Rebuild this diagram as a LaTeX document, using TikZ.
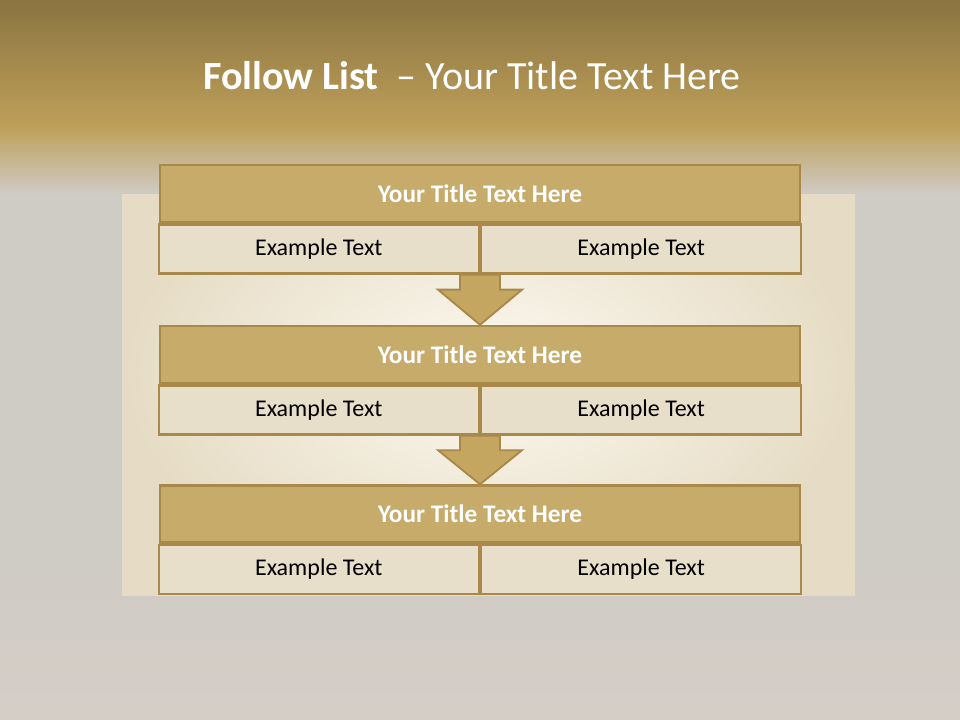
\documentclass[tikz,border=0pt]{standalone}
\usepackage{fontspec}
\setmainfont{Carlito}
\usepackage{xcolor}
\usetikzlibrary{arrows.meta, positioning, calc}

\definecolor{bandTop}{HTML}{8A7441}
\definecolor{bandLow}{HTML}{BFA05A}
\definecolor{bgGrey}{HTML}{CFCBC5}
\definecolor{bgLow}{HTML}{D5CEC7}
\definecolor{paper}{HTML}{E6DCC5}
\definecolor{paperGlow}{HTML}{FCF9F0}
\definecolor{boxLine}{HTML}{A8894A}
\definecolor{titleFill}{HTML}{C6AB6A}
\definecolor{cellFill}{HTML}{E8DFCA}
\definecolor{arrowFill}{HTML}{C4A660}

\tikzset{
  bandtitle/.style={fill=titleFill, draw=boxLine, line width=1.8pt,
    minimum width=480pt, minimum height=42.75pt, inner sep=0pt,
    text=white, font=\fontsize{19}{22}\selectfont\bfseries},
  cell/.style={fill=cellFill, draw=boxLine, line width=1.8pt,
    minimum width=240pt, minimum height=36.75pt, inner sep=0pt,
    text=black, font=\fontsize{18}{21}\selectfont},
  downarrow/.style={fill=arrowFill, draw=boxLine, line width=1.4pt, line join=miter}
}

\begin{document}
\begin{tikzpicture}[x=0.75pt, y=-0.75pt]
  \useasboundingbox (0,0) rectangle (960,720);

  % Fond
  \fill[bgGrey] (0,0) rectangle (960,720);
  \shade[top color=bgGrey, bottom color=bgLow] (0,560) rectangle (960,720);
  \shade[inner color=paperGlow, outer color=paper] (122,150) rectangle (855,595);
  \shade[top color=bandTop, bottom color=bandLow] (0,0) rectangle (960,128);
  \shade[top color=bandLow, bottom color=bgGrey] (0,127) rectangle (960,194);

  % Titre
  \node[text=white, font=\fontsize{30}{34}\selectfont] (title) at (472,76)
      {\textbf{Follow List} \ – Your Title Text Here};

  % Blocs
  \foreach \i/\y in {1/193.5, 2/354.5, 3/514} {
    \node[bandtitle] (head\i) at (480,\y) {Your Title Text Here};
    \node[cell, anchor=north east] (left\i) at (head\i.south) {Example Text};
    \node[cell, anchor=north west] (right\i) at (head\i.south) {Example Text};
  }

  % Flèches
  \foreach \a/\b in {1/2, 2/3} {
    \coordinate (top\a) at (left\a.south east);
    \coordinate (tip\a) at (head\b.north);
    \draw[downarrow] ($(top\a)+(-20,0)$) -- ($(top\a)+(20,0)$)
      -- ($(top\a)!0.3!(tip\a)+(20,0)$) -- ($(top\a)!0.3!(tip\a)+(42,0)$)
      -- (tip\a) -- ($(top\a)!0.3!(tip\a)+(-42,0)$)
      -- ($(top\a)!0.3!(tip\a)+(-20,0)$) -- cycle;
  }
\end{tikzpicture}
\end{document}
